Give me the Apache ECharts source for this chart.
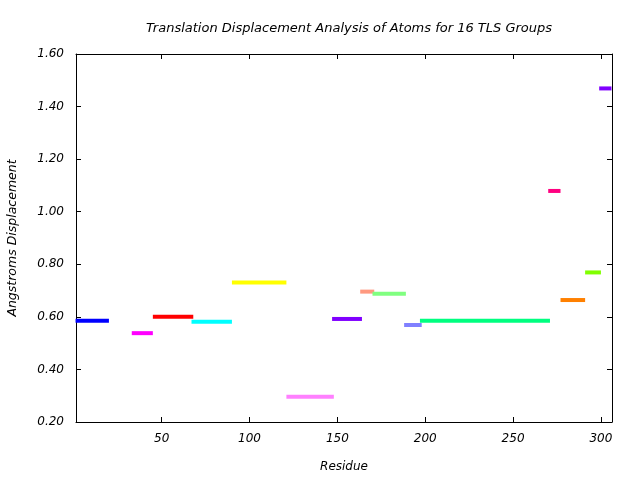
<!DOCTYPE html>
<html>
<head>
<meta charset="utf-8">
<script src="https://cdn.jsdelivr.net/npm/echarts@6/dist/echarts.min.js"></script>
<style>html,body{margin:0;padding:0;background:#fff}#c{width:640px;height:480px}</style>
</head>
<body>
<div id="c"></div>
<script>
var groupStart = [1, 33, 45, 67, 90, 121, 147, 163, 170, 188, 197, 270, 277, 291, 299];
var groupEnd   = [20, 45, 68, 90, 121, 148, 164, 171, 189, 198, 271, 277, 291, 300, 306];
var groupValue = [0.585, 0.538, 0.600, 0.581, 0.731, 0.296, 0.592, 0.696, 0.688, 0.569, 0.585, 1.079, 0.664, 0.769, 1.469];
var groupColor = ['#0000ff','#ff00ff','#ff0000','#00ffff','#ffff00','#ff80ff','#8000ff','#ff9980','#80ff80','#8080ff','#00ff80','#ff0080','#ff8000','#80ff00','#8000ff'];
var xTicks = [50, 100, 150, 200, 250, 300];

var FONT = 'DejaVu Sans';
var series = groupStart.map(function(s, i){
  return {
    type: 'line', xAxisIndex: 0, yAxisIndex: 0,
    data: [[s, groupValue[i]], [groupEnd[i], groupValue[i]]],
    showSymbol: false, symbol: 'none', silent: true,
    lineStyle: {color: groupColor[i], width: 4, cap: 'butt'},
    animation: false
  };
});

var axisLineStyle = {show: true, lineStyle: {color: '#000', width: 1}};
var chart = echarts.init(document.getElementById('c'));
chart.setOption({
  animation: false,
  title: {
    text: 'Translation Displacement Analysis of Atoms for 16 TLS Groups',
    left: 344, top: 17, textAlign: 'center',
    textStyle: {fontFamily: FONT, fontStyle: 'italic', fontWeight: 'normal', fontSize: 13, color: '#000'}
  },
  grid: {left: 76, right: 28, top: 54, bottom: 58, containLabel: false, outerBoundsMode: 'none'},
  xAxis: [{
    type: 'value', min: 1.26, max: 306.3, position: 'bottom',
    name: 'Residue', nameLocation: 'middle', nameGap: 39,
    nameTextStyle: {fontFamily: FONT, fontStyle: 'italic', fontSize: 12, color: '#000'},
    axisLine: axisLineStyle,
    axisTick: {show: true, inside: true, length: 5, customValues: xTicks, lineStyle: {color: '#000'}},
    axisLabel: {customValues: xTicks, margin: 11, fontFamily: FONT, fontStyle: 'italic', fontSize: 12, color: '#000'},
    splitLine: {show: false}
  }, {
    type: 'value', min: 1.26, max: 306.3, position: 'top',
    axisLine: axisLineStyle,
    axisTick: {show: true, inside: true, length: 5, customValues: xTicks, lineStyle: {color: '#000'}},
    axisLabel: {show: false},
    splitLine: {show: false}
  }],
  yAxis: [{
    type: 'value', min: 0.2, max: 1.6, interval: 0.2, position: 'left',
    name: 'Angstroms Displacement', nameLocation: 'middle', nameGap: 57,
    nameTextStyle: {fontFamily: FONT, fontStyle: 'italic', fontSize: 12.5, color: '#000'},
    axisLine: axisLineStyle,
    axisTick: {show: true, inside: true, length: 5, lineStyle: {color: '#000'}},
    axisLabel: {margin: 12, fontFamily: FONT, fontStyle: 'italic', fontSize: 12, color: '#000',
      formatter: function(v){ return v.toFixed(2); }},
    splitLine: {show: false}
  }, {
    type: 'value', min: 0.2, max: 1.6, interval: 0.2, position: 'right',
    axisLine: axisLineStyle,
    axisTick: {show: true, inside: true, length: 5, lineStyle: {color: '#000'}},
    axisLabel: {show: false},
    splitLine: {show: false}
  }],
  series: series
});
</script>
</body>
</html>
